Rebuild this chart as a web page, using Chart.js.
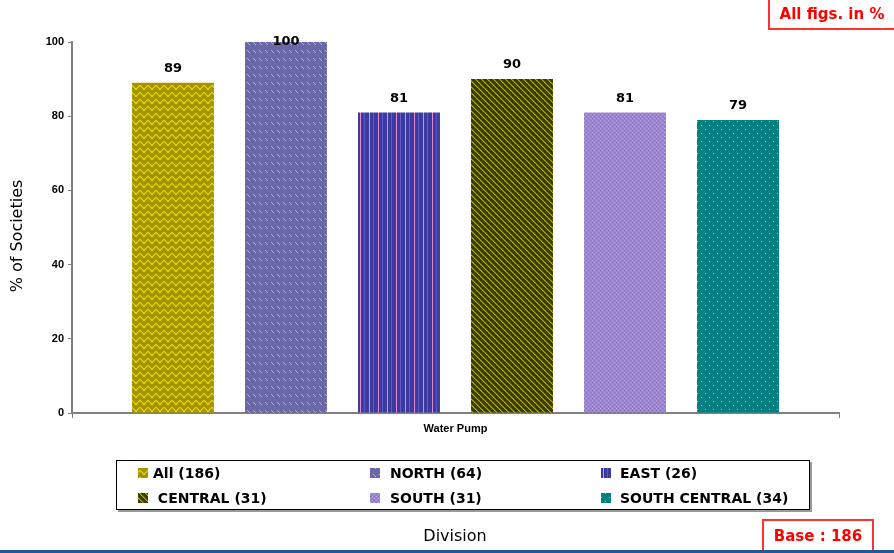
<!DOCTYPE html>
<html>
<head>
<meta charset="utf-8">
<script src="https://cdn.jsdelivr.net/npm/chart.js@4.4.0/dist/chart.umd.min.js"></script>
<style>
  html, body { margin: 0; padding: 0; background: #fff; }
  #wrap { width: 894px; height: 553px; position: relative; }
</style>
</head>
<body>
<div id="wrap"><canvas id="myChart" width="894" height="553"></canvas></div>
<script>
// data
const categories = ['Water Pump']
const divisions = ['All (186)', 'NORTH (64)', 'EAST (26)', ' CENTRAL (31)', 'SOUTH (31)', 'SOUTH CENTRAL (34)']
const values = [89, 100, 81, 90, 81, 79]
const yTicks = [0, 20, 40, 60, 80, 100]

// little tiles for the hatched fills
function tile(w, h, draw) {
  const c = document.createElement('canvas')
  c.width = w; c.height = h
  const g = c.getContext('2d')
  draw(g)
  return g.createPattern(c, 'repeat')
}
function px(g, col, pts) {
  g.fillStyle = col
  pts.forEach(p => g.fillRect(p[0], p[1], 1, 1))
}

const fills = [
  // All - olive zigzag
  tile(8, 7, g => {
    g.fillStyle = '#a39500'; g.fillRect(0, 0, 8, 7)
    px(g, '#e8d400', [[0,4],[1,3],[2,2],[3,1],[4,1],[5,2],[6,3],[7,4],[0,5],[7,5]])
    px(g, '#c8b800', [[1,4],[2,3],[3,2],[4,2],[5,3],[6,4]])
  }),
  // NORTH - blue-grey with short light dashes
  tile(6, 8, g => {
    g.fillStyle = '#6a68a6'; g.fillRect(0, 0, 6, 8)
    px(g, '#9ab4ee', [[1,2],[2,3],[3,4]])
  }),
  // EAST - navy with pink pinstripes
  tile(9, 1, g => {
    g.fillStyle = '#3c3a9e'; g.fillRect(0, 0, 9, 1)
    px(g, '#e28ad2', [[0,0]])
    px(g, '#5e5cc6', [[4,0]])
  }),
  // CENTRAL - dark olive diagonal
  tile(6, 6, g => {
    g.fillStyle = '#3c3c00'; g.fillRect(0, 0, 6, 6)
    px(g, '#b0b000', [[0,0],[1,1],[2,2],[3,3],[4,4],[5,5]])
    px(g, '#767600', [[1,0],[2,1],[3,2],[4,3],[5,4],[0,5]])
  }),
  // SOUTH - lavender fine check
  tile(4, 4, g => {
    g.fillStyle = '#9c84d2'; g.fillRect(0, 0, 4, 4)
    px(g, '#bba8e8', [[0,0],[2,2]])
    px(g, '#8a70c0', [[2,0],[0,2]])
  }),
  // SOUTH CENTRAL - teal with cyan dots
  tile(8, 8, g => {
    g.fillStyle = '#008080'; g.fillRect(0, 0, 8, 8)
    px(g, '#4ee6e6', [[1,1],[5,5]])
  })
]

const datasets = divisions.map((d, i) => ({
  label: d,
  data: [values[i]],
  backgroundColor: fills[i],
  borderWidth: 0,
  categoryPercentage: 0.884,
  barPercentage: 0.725
}))

const extras = {
  id: 'extras',
  afterDatasetsDraw(chart) {
    const ctx = chart.ctx
    const area = chart.chartArea
    ctx.save()
    // value labels
    ctx.fillStyle = '#000'
    ctx.font = 'bold 13px "DejaVu Sans"'
    ctx.textAlign = 'center'
    ctx.textBaseline = 'middle'
    chart.data.datasets.forEach((ds, i) => {
      const bar = chart.getDatasetMeta(i).data[0]
      ctx.fillText(String(ds.data[0]), bar.x, Math.max(bar.y - 14, area.top))
    })
    ctx.restore()
  },
  afterDraw(chart) {
    const ctx = chart.ctx
    ctx.save()
    // axis titles
    ctx.fillStyle = '#000'
    ctx.font = '16px "DejaVu Sans"'
    ctx.textAlign = 'center'
    ctx.textBaseline = 'middle'
    ctx.save()
    ctx.translate(18, 236)
    ctx.rotate(-Math.PI / 2)
    ctx.fillText('% of Societies', 0, 0)
    ctx.restore()
    ctx.fillText('Division', 455, 537)

    // legend box
    ctx.fillStyle = '#999'
    ctx.fillRect(118, 462, 694, 50)
    ctx.fillStyle = '#fff'
    ctx.fillRect(116, 460, 694, 50)
    ctx.strokeStyle = '#000'
    ctx.lineWidth = 1
    ctx.strokeRect(116.5, 460.5, 693, 49)
    const swX = [138, 370, 601]
    const txtX = [153, 390, 620]
    const rowY = [473, 498]
    ctx.font = 'bold 14px "DejaVu Sans"'
    ctx.textAlign = 'left'
    chart.data.datasets.forEach((ds, i) => {
      const c = i % 3, y = rowY[Math.floor(i / 3)]
      ctx.fillStyle = ds.backgroundColor
      ctx.fillRect(swX[c], y - 5, 10, 10)
      ctx.fillStyle = '#000'
      ctx.fillText(ds.label, txtX[c], y + 1)
    })

    // red note boxes
    ctx.strokeStyle = '#ff3030'
    ctx.lineWidth = 2
    ctx.strokeRect(769, -2, 130, 31)
    ctx.strokeRect(763, 520, 110, 34)
    ctx.fillStyle = '#ff0000'
    ctx.font = 'bold 15px "DejaVu Sans"'
    ctx.textAlign = 'center'
    ctx.fillText('All figs. in %', 832, 15)
    ctx.fillText('Base : 186', 818, 537)

    // blue rule at the bottom
    ctx.fillStyle = '#1f5a96'
    ctx.fillRect(0, 550, 894, 3)
    ctx.restore()
  }
}

new Chart(document.getElementById('myChart'), {
  type: 'bar',
  data: { labels: categories, datasets: datasets },
  options: {
    responsive: false,
    animation: false,
    layout: { padding: { top: 42, right: 55, left: 0, bottom: 0 } },
    plugins: { legend: { display: false }, tooltip: { enabled: false } },
    scales: {
      x: {
        grid: { display: true, drawOnChartArea: false, color: '#808080', tickLength: 5, offset: true },
        border: { color: '#808080', width: 2 },
        ticks: { color: '#000', font: { family: 'Liberation Sans', weight: 'bold', size: 11 }, padding: 4 },
        afterFit(s) { s.height = 140 }
      },
      y: {
        min: 0, max: 100,
        afterBuildTicks(s) { s.ticks = yTicks.map(v => ({ value: v })) },
        grid: { display: true, drawOnChartArea: false, color: '#808080', tickLength: 4 },
        border: { color: '#808080', width: 2 },
        ticks: { color: '#000', font: { family: 'Liberation Sans', weight: 'bold', size: 11 }, padding: 4 },
        afterFit(s) { s.width = 72 }
      }
    }
  },
  plugins: [extras]
})
</script>
</body>
</html>
